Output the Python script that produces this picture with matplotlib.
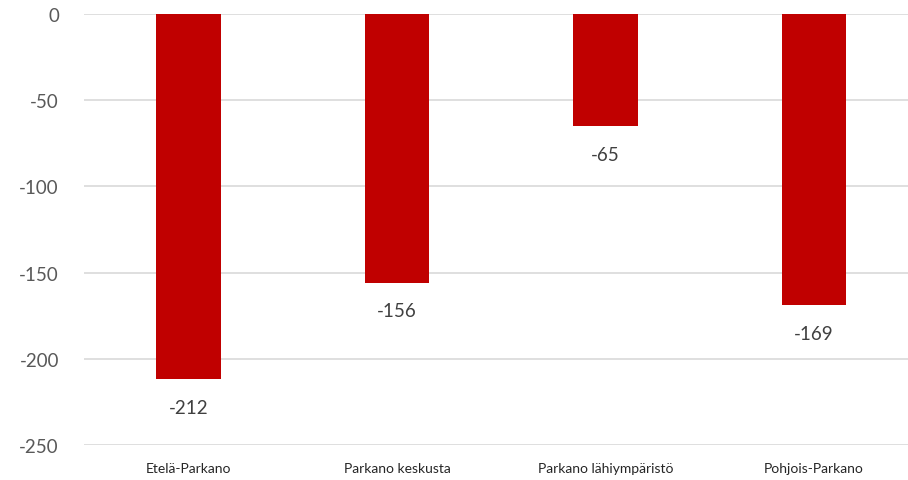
import matplotlib
matplotlib.use("Agg")
import matplotlib.pyplot as plt
import numpy as np

plt.rcParams['font.family'] = ['Lato', 'DejaVu Sans']

categories = ['Etelä-Parkano', 'Parkano keskusta', 'Parkano lähiympäristö', 'Pohjois-Parkano']
values = [-212, -156, -65, -169]
yticks = [0, -50, -100, -150, -200, -250]

fig = plt.figure(figsize=(9.08, 4.81), dpi=100)
ax = fig.add_axes([0.0925, 0.0728, 0.9075, 0.896])

x = np.arange(len(categories))
bars = ax.bar(x, values, width=0.31, color='#C00000', zorder=3)

for xi, v in zip(x, values):
    ax.annotate(str(v), xy=(xi, v), xytext=(0, -14), textcoords='offset points',
                ha='center', va='top', fontsize=13.5, color='#404040')

ax.set_ylim(-250, 0)
ax.set_xlim(-0.5, 3.45)
ax.set_yticks(yticks)
ax.set_yticklabels([str(t) for t in yticks])
ax.tick_params(axis='y', length=0, labelsize=13.5, labelcolor='#595959', pad=18)
ax.set_xticks(x)
ax.set_xticklabels(categories)
ax.tick_params(axis='x', length=0, labelsize=10, labelcolor='#262626', pad=12)
ax.grid(axis='y', color='#D9D9D9', linewidth=1.2, zorder=0)
for s in ax.spines.values():
    s.set_visible(False)

fig.savefig('out.png', dpi=100)
